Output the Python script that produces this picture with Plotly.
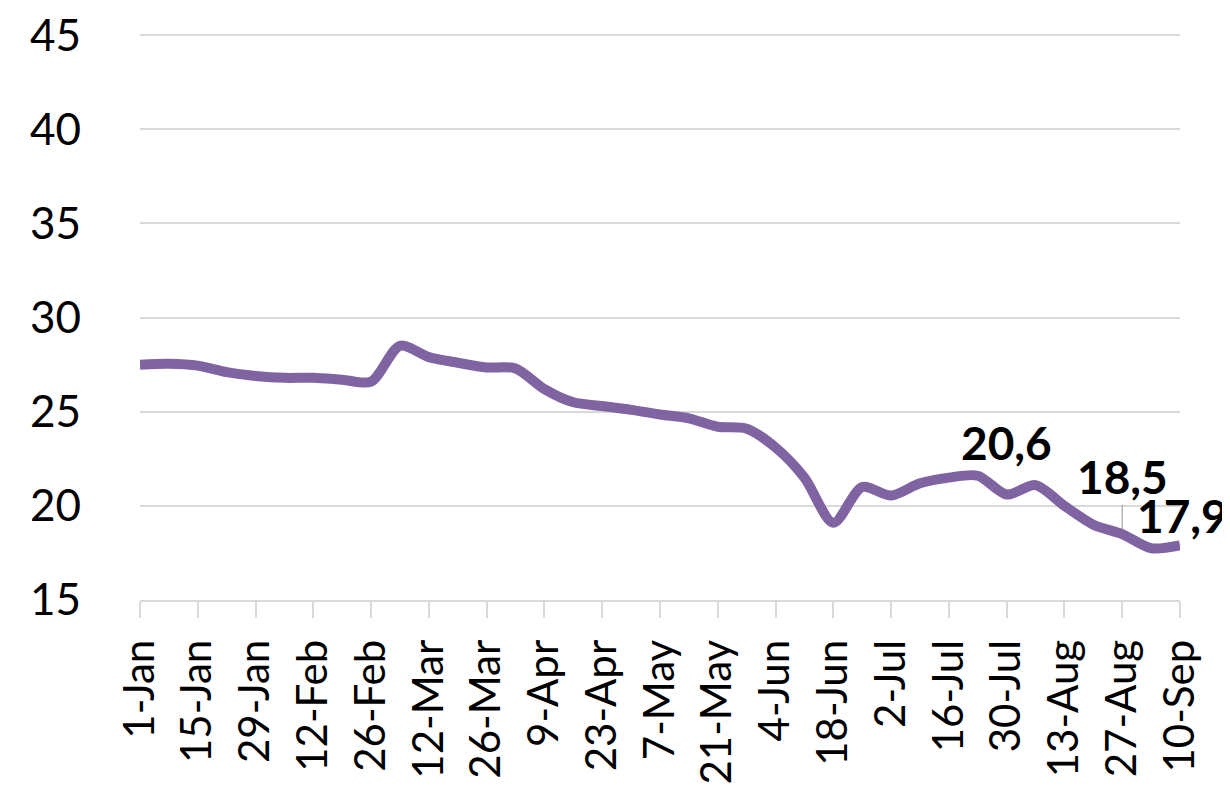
import plotly.graph_objects as go
import pandas as pd

# Weekly data, 1-Jan to 10-Sep
start_date = "2018-01-01"
values = [27.5, 27.55, 27.45, 27.1, 26.9, 26.8, 26.8, 26.7, 26.6,
          28.5, 27.9, 27.6, 27.35, 27.3, 26.2, 25.5, 25.3, 25.1, 24.85,
          24.65, 24.2, 24.1, 23.1, 21.5, 19.1, 21.0, 20.55, 21.2, 21.5,
          21.6, 20.6, 21.1, 20.0, 19.0, 18.5, 17.75, 17.9]
dates = pd.date_range(start_date, periods=len(values), freq="7D")

tick_labels = ["1-Jan", "15-Jan", "29-Jan", "12-Feb", "26-Feb", "12-Mar", "26-Mar",
               "9-Apr", "23-Apr", "7-May", "21-May", "4-Jun", "18-Jun", "2-Jul",
               "16-Jul", "30-Jul", "13-Aug", "27-Aug", "10-Sep"]
tick_dates = pd.date_range(start_date, periods=len(tick_labels), freq="14D")
y_ticks = [15, 20, 25, 30, 35, 40, 45]

label_dates = ["2018-07-30", "2018-08-27", "2018-09-10"]
label_values = [20.6, 18.5, 17.9]
label_texts = ["20,6", "18,5", "17,9"]

FONT = "Lato"
COLOR = "#8064A2"

fig = go.Figure()
fig.add_trace(go.Scatter(
    x=dates, y=values, mode="lines",
    line=dict(color=COLOR, width=10, shape="spline", smoothing=0.8),
    hoverinfo="skip", showlegend=False,
))

lab_font = dict(family=FONT, size=46, color="black", weight="bold")
# 20,6 above
fig.add_annotation(x=label_dates[0], y=label_values[0], text=label_texts[0],
                   showarrow=False, yshift=52, font=lab_font)
# 18,5 with leader line
fig.add_annotation(x=label_dates[1], y=label_values[1], text=label_texts[1],
                   showarrow=True, arrowhead=0, arrowwidth=1.2, arrowcolor="#A6A6A6",
                   ax=0, ay=-58, standoff=5, font=lab_font)
# 17,9 above right
fig.add_annotation(x=label_dates[2], y=label_values[2], text=label_texts[2],
                   showarrow=False, xshift=2, yshift=30, font=lab_font)

fig.update_layout(
    width=1230, height=801,
    margin=dict(l=132, r=58, t=26, b=209),
    paper_bgcolor="white", plot_bgcolor="white",
    font=dict(family=FONT, color="black"),
)
fig.update_xaxes(
    type="date", automargin=False,
    range=[tick_dates[0], tick_dates[-1]],
    tickvals=tick_dates, ticktext=tick_labels,
    tickangle=-90, tickfont=dict(family=FONT, size=42, color="black"),
    showgrid=False, showline=True, linecolor="#D9D9D9", linewidth=2,
    ticks="outside", ticklen=16, tickcolor="#D9D9D9", tickwidth=2,
    ticklabelstandoff=5, zeroline=False, ticklabeloverflow="allow",
)
fig.update_yaxes(
    automargin=False,
    range=[15, 45.06], tickvals=y_ticks,
    tickfont=dict(family=FONT, size=44, color="black"),
    showgrid=True, gridcolor="#D9D9D9", gridwidth=2,
    zeroline=False, showline=False, ticks="",
    ticklabelstandoff=58, ticklabeloverflow="allow",
)

fig.write_html("out.html")
